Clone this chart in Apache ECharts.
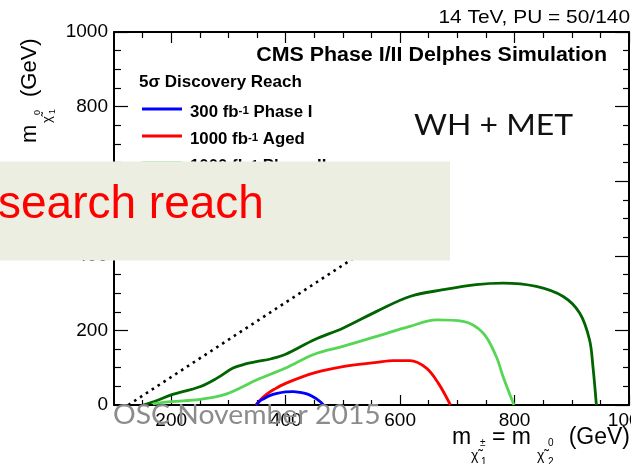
<!DOCTYPE html>
<html>
<head>
<meta charset="utf-8">
<script src="https://cdn.jsdelivr.net/npm/echarts@6/dist/echarts.min.js"></script>
<style>
html,body{margin:0;padding:0;background:#fff;}
#chart{width:631px;height:464px;}
</style>
</head>
<body>
<div id="chart"></div>
<script>
// ---- data ----
var xMajorTicks = [200, 400, 600, 800, 1000];
var xMinorTicks = [150, 250, 300, 350, 450, 500, 550, 650, 700, 750, 850, 900, 950];
var yMajorTicks = [0, 200, 400, 600, 800, 1000];
var yMinorTicks = [50, 100, 150, 250, 300, 350, 450, 500, 550, 650, 700, 750, 850, 900, 950];

var phase1_300 = [[349,0],[355,11],[362,17],[372,25],[385,31],[400,35],[413,36],[425,34],[437,30],[447,23],[455,15],[461,8],[466,0]];
var aged_1000 = [[348,0],[356,14],[367,29],[380,42],[400,58],[450,86],[500,103],[559,114],[588,119],[617,119],[646,99],[667,58],[688,0]];
var phase2_1000 = [[168,3],[200,9],[250,15],[297,30],[349,67],[400,99],[450,136],[500,157],[559,184],[617,211],[664,228],[710,224],[745,193],[768,130],[780,76],[799,0]];
var phase2_3000 = [[151,0],[175,12],[200,27],[250,49],[280,72],[308,99],[330,110],[349,116],[375,124],[400,136],[450,175],[500,206],[559,251],[617,291],[675,309],[733,323],[780,327],[838,318],[885,291],[914,246],[931,175],[937,103],[943,0]];
var kinematicLine = [[125,0],[640,515]];

var legendLabels = ['300 fb{sup|-1} Phase I', '1000 fb{sup|-1} Aged', '1000 fb{sup|-1} Phase II'];
var colors = {blue:'#0000ff', red:'#ff0000', light:'#55d655', dark:'#006400'};

// ---- chart ----
var FONT = '"Liberation Sans", Arial, Helvetica, sans-serif';
var chart = echarts.init(document.getElementById('chart'), null, {renderer:'canvas'});

function plain(v) { return String(v); }
function xAx(pos, ticks, len, labels, line) {
  return {
    type:'value', min:100, max:1000, position:pos, gridIndex:0,
    axisLine:{show:line, onZero:false, lineStyle:{color:'#000', width:2}},
    axisTick:{show:true, inside:true, length:len, customValues:ticks, lineStyle:{color:'#000', width:1.2}},
    axisLabel:{show:labels, customValues:ticks, formatter:plain, margin:6, fontSize:19, color:'#000', fontFamily:FONT},
    splitLine:{show:false}
  };
}
function yAx(pos, ticks, len, labels, line) {
  return {
    type:'value', min:0, max:1000, position:pos, gridIndex:0,
    axisLine:{show:line, onZero:false, lineStyle:{color:'#000', width:2}},
    axisTick:{show:true, inside:true, length:len, customValues:ticks, lineStyle:{color:'#000', width:1.2}},
    axisLabel:{show:labels, customValues:ticks, formatter:plain, margin:6, fontSize:19, color:'#000', fontFamily:FONT},
    splitLine:{show:false}
  };
}

function curve(name, data, color) {
  return {
    type:'line', name:name, data:data, xAxisIndex:0, yAxisIndex:0,
    showSymbol:false, smooth:0.35,
    lineStyle:{color:color, width:2.8}, z:3, silent:true
  };
}

var legendY = [109, 136, 163];
var legendColors = [colors.blue, colors.red, colors.light];
var graphics = [];
// legend
graphics.push({type:'text', x:139, y:82, style:{text:'5\u03c3 Discovery Reach', font:'bold 17px ' + FONT, fill:'#000', verticalAlign:'middle'}, z:10});
for (var i = 0; i < legendLabels.length; i++) {
  graphics.push({type:'line', shape:{x1:142, y1:legendY[i], x2:182, y2:legendY[i]}, style:{stroke:legendColors[i], lineWidth:2.8}, z:10});
  graphics.push({type:'text', x:190, y:legendY[i] + 4, scaleX:1.05, style:{text:legendLabels[i], fontSize:16, fontWeight:'bold', fontFamily:FONT, fill:'#000', verticalAlign:'middle', rich:{sup:{fontSize:11, fontWeight:'bold', fontFamily:FONT, verticalAlign:'top', fill:'#000'}}}, z:10});
}
// titles
graphics.push({type:'text', x:607, y:55, scaleX:1.07, style:{text:'CMS Phase I/II Delphes Simulation', font:'bold 20px ' + FONT, fill:'#000', align:'right', verticalAlign:'middle'}, z:10});
graphics.push({type:'text', x:630, y:18, scaleX:1.1, style:{text:'14 TeV, PU = 50/140', font:'19px ' + FONT, fill:'#000', align:'right', verticalAlign:'middle'}, z:10});
graphics.push({type:'text', x:414, y:126, scaleX:1.1, style:{text:'WH + MET', font:'29px Lato, "Open Sans", sans-serif', fill:'#111', verticalAlign:'middle'}, z:10});
// x axis name
var xs = 23;
graphics.push({type:'text', x:452, y:438, style:{text:'m', font:xs + 'px ' + FONT, fill:'#000', verticalAlign:'middle'}, z:10});
graphics.push({type:'text', x:471, y:456, style:{text:'\u03c7\u0303', font:'14px ' + FONT, fill:'#000', verticalAlign:'middle'}, z:10});
graphics.push({type:'text', x:481, y:462, style:{text:'1', font:'10px ' + FONT, fill:'#000', verticalAlign:'middle'}, z:10});
graphics.push({type:'text', x:480, y:443, style:{text:'\u00b1', font:'10px ' + FONT, fill:'#000', verticalAlign:'middle'}, z:10});
graphics.push({type:'text', x:492, y:438, style:{text:'= m', font:xs + 'px ' + FONT, fill:'#000', verticalAlign:'middle'}, z:10});
graphics.push({type:'text', x:537, y:456, style:{text:'\u03c7\u0303', font:'14px ' + FONT, fill:'#000', verticalAlign:'middle'}, z:10});
graphics.push({type:'text', x:548, y:462, style:{text:'2', font:'10px ' + FONT, fill:'#000', verticalAlign:'middle'}, z:10});
graphics.push({type:'text', x:548, y:443, style:{text:'0', font:'10px ' + FONT, fill:'#000', verticalAlign:'middle'}, z:10});
graphics.push({type:'text', x:630, y:438, style:{text:'(GeV)', font:xs + 'px ' + FONT, fill:'#000', align:'right', verticalAlign:'middle'}, z:10});
// y axis name (rotated)
var R = Math.PI / 2;
graphics.push({type:'text', x:30, y:143, rotation:R, style:{text:'m', font:'22px ' + FONT, fill:'#000', verticalAlign:'middle'}, z:10});
graphics.push({type:'text', x:47, y:123, rotation:R, style:{text:'\u03c7\u0303', font:'13px ' + FONT, fill:'#000', verticalAlign:'middle'}, z:10});
graphics.push({type:'text', x:53, y:114, rotation:R, style:{text:'1', font:'9px ' + FONT, fill:'#000', verticalAlign:'middle'}, z:10});
graphics.push({type:'text', x:38, y:115, rotation:R, style:{text:'0', font:'9px ' + FONT, fill:'#000', verticalAlign:'middle'}, z:10});
graphics.push({type:'text', x:30, y:97, rotation:R, style:{text:'(GeV)', font:'22px ' + FONT, fill:'#000', verticalAlign:'middle'}, z:10});
// overlay box and slide texts
graphics.push({type:'rect', shape:{x:0, y:161.5, width:450, height:99}, style:{fill:'#ebeee0'}, z:50});
graphics.push({type:'text', x:-2, y:205, style:{text:'search reach', font:'46px ' + FONT, fill:'#ff0000', verticalAlign:'middle'}, z:51});
graphics.push({type:'text', x:113, y:416, scaleX:1.09, style:{text:'OSC November 2015', font:'26px Lato, "Open Sans", sans-serif', fill:'#8c8c8c', verticalAlign:'middle'}, z:51});

var option = {
  animation:false,
  backgroundColor:'#fff',
  grid:{left:114, right:2, top:32, bottom:59, containLabel:false, outerBoundsMode:'none'},
  xAxis:[
    xAx('bottom', xMajorTicks, 10, true, true),
    xAx('bottom', xMinorTicks, 5, false, false),
    xAx('top', xMajorTicks, 11, false, true),
    xAx('top', xMinorTicks, 6, false, false)
  ],
  yAxis:[
    yAx('left', yMajorTicks, 14, true, true),
    yAx('left', yMinorTicks, 7, false, false),
    yAx('right', yMajorTicks, 14, false, true),
    yAx('right', yMinorTicks, 6, false, false)
  ],
  series:[
    {type:'line', name:'kinematic limit', data:kinematicLine, showSymbol:false, xAxisIndex:0, yAxisIndex:0,
     lineStyle:{color:'#000', width:2.6, type:[2.6,4.4]}, z:2, silent:true},
    curve('3000 fb-1 Phase II', phase2_3000, colors.dark),
    curve('1000 fb-1 Phase II', phase2_1000, colors.light),
    curve('1000 fb-1 Aged', aged_1000, colors.red),
    curve('300 fb-1 Phase I', phase1_300, colors.blue)
  ],
  graphic:graphics
};
chart.setOption(option);
</script>
</body>
</html>
